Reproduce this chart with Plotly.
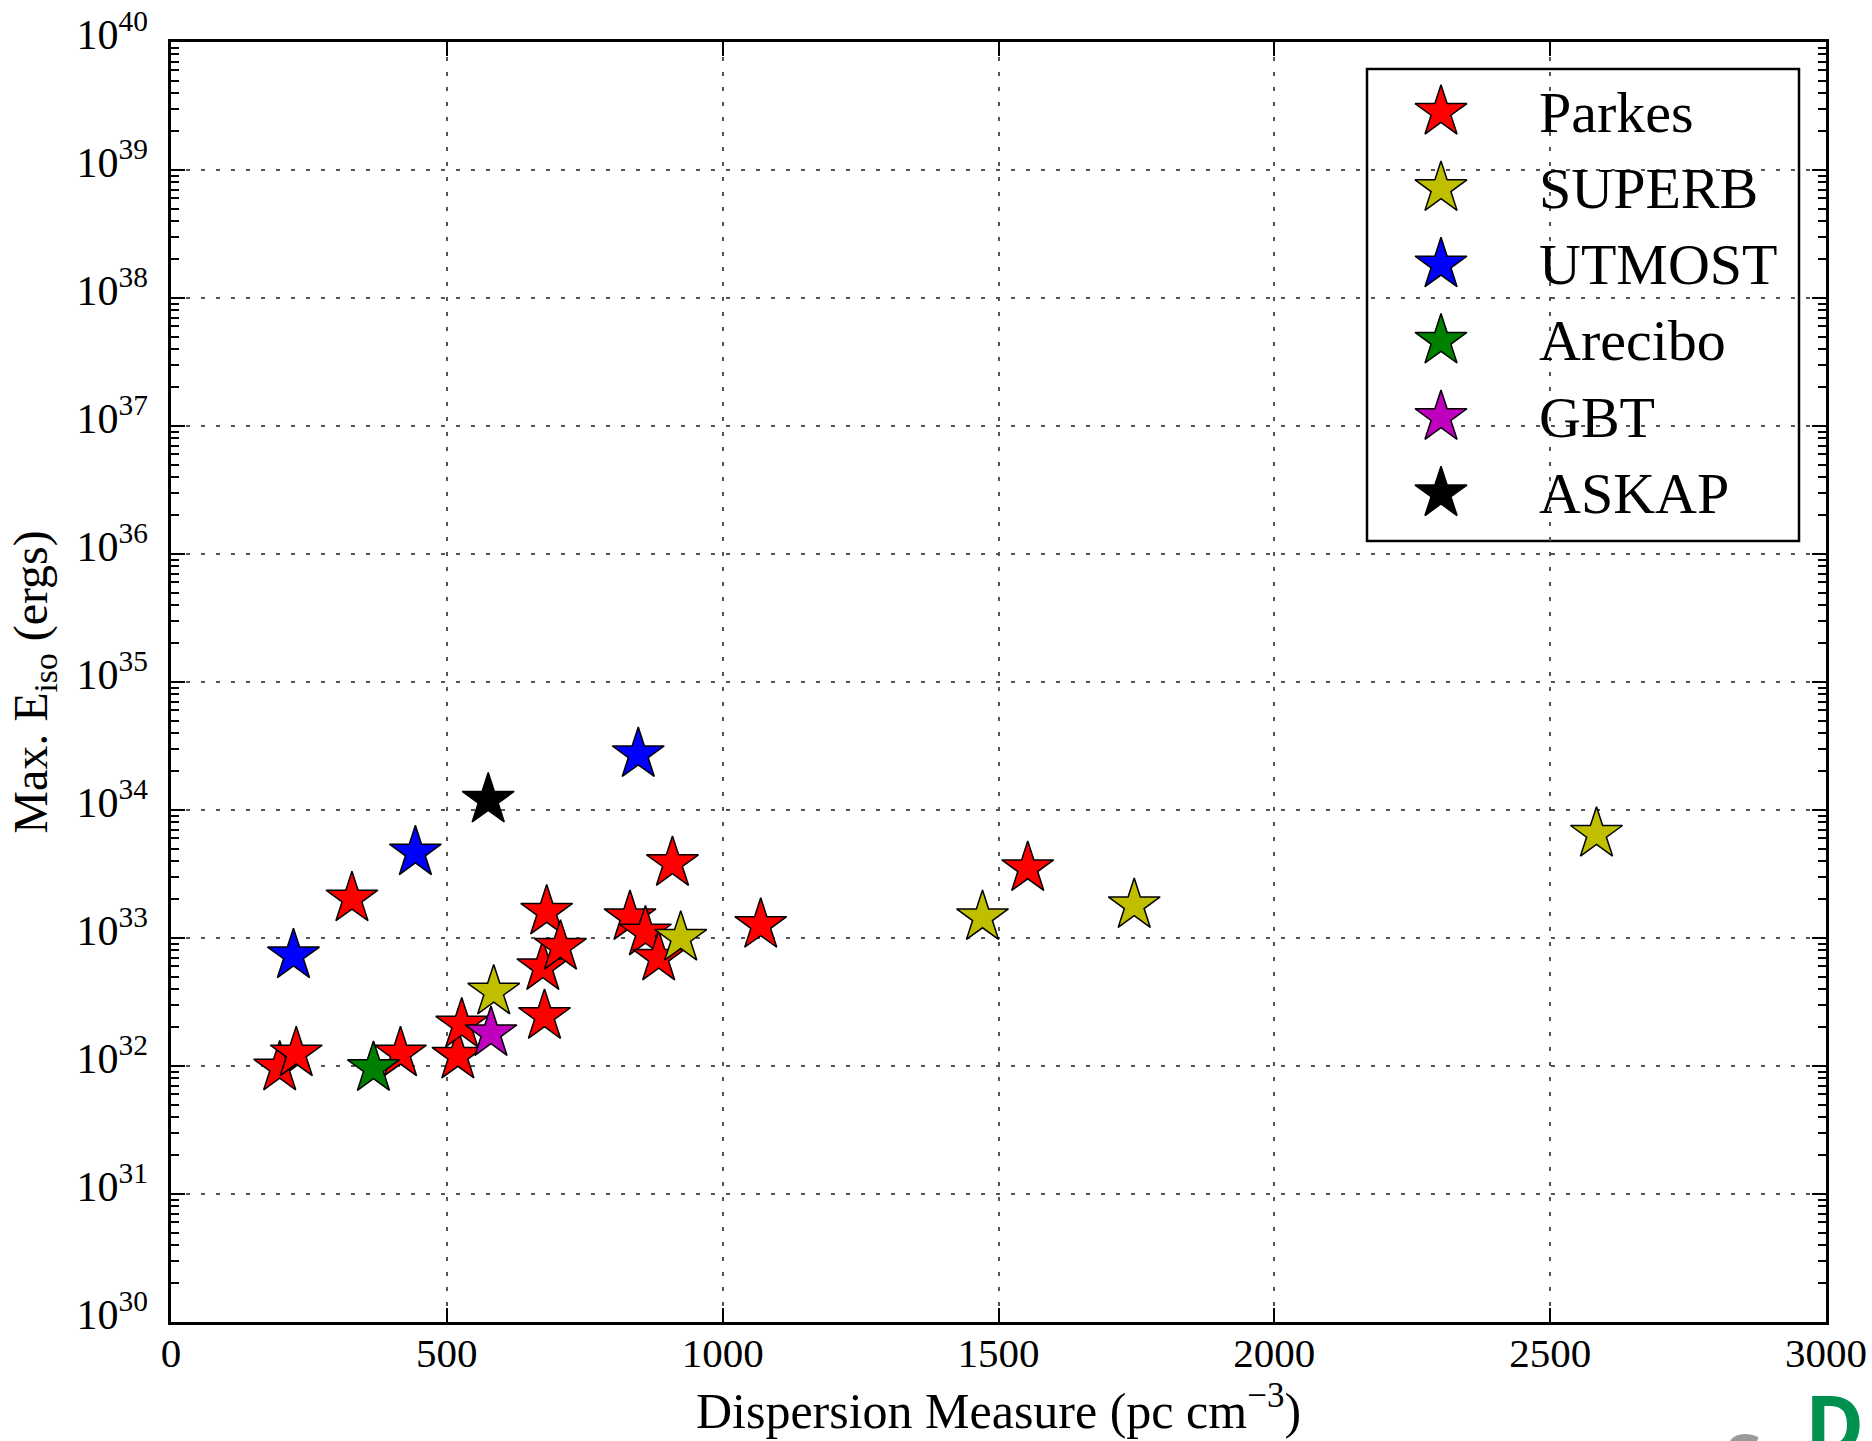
import plotly.graph_objects as go

# ---------------- data ----------------
instruments = ["Parkes", "SUPERB", "UTMOST", "Arecibo", "GBT", "ASKAP"]
colors = ["#FF0000", "#BFBF00", "#0000FF", "#008000", "#BF00BF", "#000000"]

parkes_dm = [197, 227, 328, 416, 520, 527, 677, 674, 681, 706, 832, 860, 884, 909, 1069, 1553]
parkes_e = [9.7e31, 1.25e32, 2.03e33, 1.25e32, 1.2e32, 2.1e32, 2.45e32, 5.9e32, 1.6e33, 8.5e32,
            1.45e33, 1.1e33, 7.0e32, 3.84e33, 1.26e33, 3.5e33]
superb_dm = [585, 924, 1471, 1746, 2584]
superb_e = [3.8e32, 1.0e33, 1.45e33, 1.8e33, 6.5e33]
utmost_dm = [222, 443, 847]
utmost_e = [7.3e32, 4.65e33, 2.72e34]
arecibo_dm = [367]
arecibo_e = [9.6e31]
gbt_dm = [580]
gbt_e = [1.8e32]
askap_dm = [575]
askap_e = [1.2e34]

x_ticks = [0, 500, 1000, 1500, 2000, 2500, 3000]
y_exponents = list(range(30, 41))

series = [
    (parkes_dm, parkes_e),
    (superb_dm, superb_e),
    (utmost_dm, utmost_e),
    (arecibo_dm, arecibo_e),
    (gbt_dm, gbt_e),
    (askap_dm, askap_e),
]

# ---------------- layout constants ----------------
W, H = 1872, 1441
ML, MR, MT, MB = 171, 46, 42, 119
PW, PH = W - ML - MR, H - MT - MB
FONT = "Liberation Serif"
STAR = 39


def fx(px):
    return (px - ML) / PW


def fy(py):
    return (H - MB - py) / PH


fig = go.Figure()

for name, col, (xs, ys) in zip(instruments, colors, series):
    fig.add_trace(go.Scatter(
        x=xs, y=ys, mode="markers", name=name, showlegend=False,
        marker=dict(symbol="star", size=STAR, color=col,
                    line=dict(color="black", width=1.5)),
        cliponaxis=False,
    ))

# ---------------- legend (drawn manually for full-size stars) ----------------
leg_x0, leg_y0, leg_x1, leg_y1 = 1367, 69, 1799, 541
leg_star_x = 1441
leg_text_x = 1537
leg_first_y = 112
leg_step = 76.3

fig.add_shape(type="rect", xref="paper", yref="paper",
              x0=fx(leg_x0), x1=fx(leg_x1), y0=fy(leg_y1), y1=fy(leg_y0),
              line=dict(color="black", width=2.5), fillcolor="white", layer="between")

for i, (name, col) in enumerate(zip(instruments, colors)):
    yy = leg_first_y + i * leg_step
    fig.add_trace(go.Scatter(
        x=[fx(leg_star_x)], y=[fy(yy)], xaxis="x2", yaxis="y2",
        mode="markers", showlegend=False, hoverinfo="skip",
        marker=dict(symbol="star", size=STAR, color=col,
                    line=dict(color="black", width=1.5)),
        cliponaxis=False,
    ))
    fig.add_annotation(x=fx(leg_text_x), y=fy(yy), xref="paper", yref="paper",
                       text=name, showarrow=False, xanchor="left", yanchor="middle",
                       font=dict(family=FONT, size=58, color="black"))

# watermark fragments at bottom right
fig.add_annotation(x=fx(1803), y=fy(1366), xref="paper", yref="paper", text="<b>D</b>",
                   showarrow=False, xanchor="left", yanchor="top",
                   font=dict(family="Open Sans", size=80, color="#009150"))
fig.add_annotation(x=fx(1723), y=fy(1410), xref="paper", yref="paper", text="<b>S</b>",
                   showarrow=False, xanchor="left", yanchor="top",
                   font=dict(family="Open Sans", size=66, color="#9A9A9A"))

minor_vals = [float(k) * 10.0 ** e for e in y_exponents[:-1] for k in range(2, 10)]

fig.update_layout(
    width=W, height=H,
    margin=dict(l=ML, r=MR, t=MT, b=MB, pad=0, autoexpand=False),
    paper_bgcolor="white", plot_bgcolor="white",
    font=dict(family=FONT, color="black"),
    showlegend=False,
    xaxis=dict(
        range=[0, 3000], tickvals=x_ticks, ticktext=[str(v) for v in x_ticks],
        showline=True, linecolor="black", linewidth=2.5, mirror="ticks",
        ticks="inside", ticklen=14, tickwidth=2, tickcolor="black",
        showgrid=True, gridcolor="#555555", gridwidth=2, griddash="4px,11px",
        zeroline=False, tickfont=dict(family=FONT, size=41),
        ticklabelstandoff=-7, automargin=False,
        title=dict(text="Dispersion Measure (pc cm<sup>−3</sup>)",
                   font=dict(family=FONT, size=50), standoff=11),
    ),
    yaxis=dict(
        type="log", range=[30, 40],
        tickvals=[10.0 ** e for e in y_exponents],
        ticktext=[f"10<sup>{e}</sup>" for e in y_exponents],
        showline=True, linecolor="black", linewidth=2.5, mirror="ticks",
        ticks="inside", ticklen=14, tickwidth=2, tickcolor="black",
        minor=dict(tickvals=minor_vals, ticks="inside", ticklen=8, tickwidth=2,
                   tickcolor="black", showgrid=False),
        showgrid=True, gridcolor="#555555", gridwidth=2, griddash="4px,11px",
        zeroline=False, tickfont=dict(family=FONT, size=42),
        ticklabelstandoff=12, ticklabelshift=-8, automargin=False,
        title=dict(text="Max. E<sub>iso</sub> (ergs)",
                   font=dict(family=FONT, size=48), standoff=14),
    ),
    xaxis2=dict(overlaying="x", range=[0, 1], visible=False, fixedrange=True),
    yaxis2=dict(overlaying="y", range=[0, 1], visible=False, fixedrange=True),
)

fig.write_html("out.html", config={"displayModeBar": False},
               post_script="document.body.style.margin='0px';")
